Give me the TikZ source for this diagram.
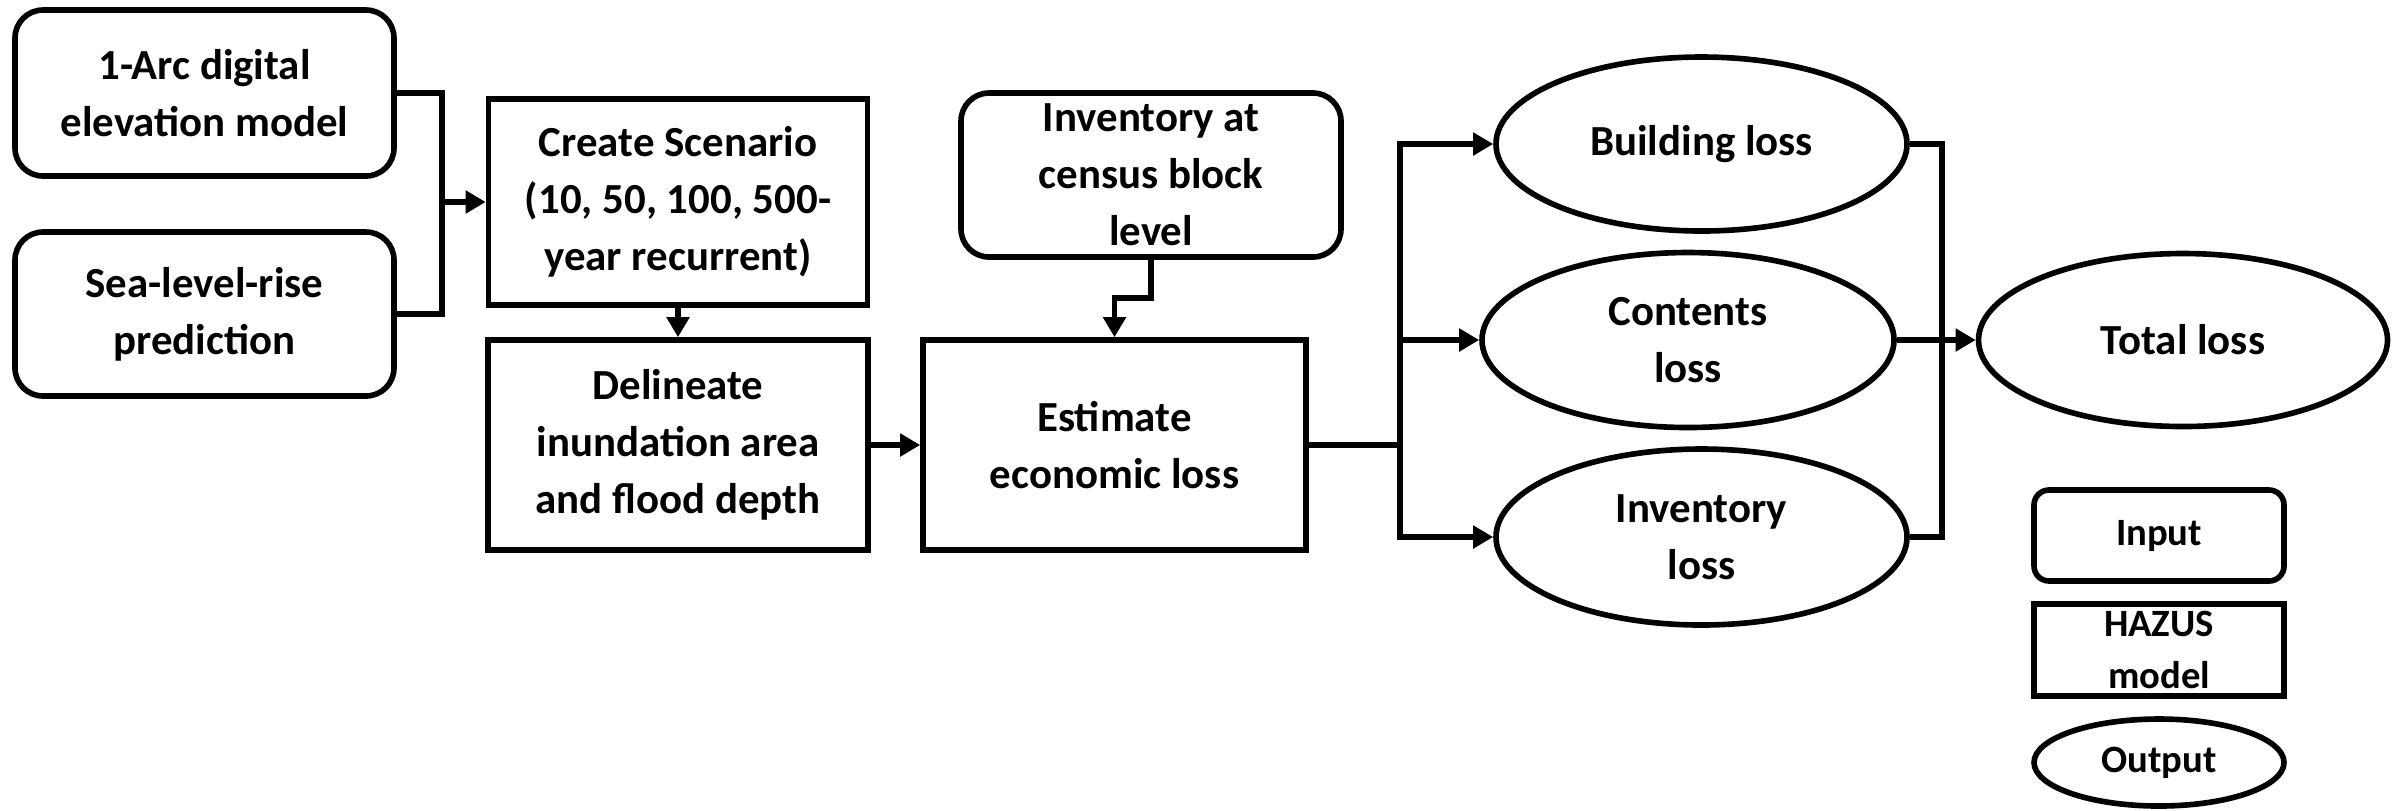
\documentclass[tikz,border=0pt]{standalone}
\usepackage{fontspec}
\setmainfont{Carlito}
\usetikzlibrary{shapes.geometric,arrows.meta}

\begin{document}
\begin{tikzpicture}[
    box/.style = {draw, line width=1.6pt, align=center, inner sep=0pt,
                  font=\fontsize{12.2}{16.2}\selectfont\bfseries},
    inbox/.style = {box, rounded corners=0.28cm},
    hbox/.style = {box},
    outbox/.style = {box, ellipse},
    keyfont/.style = {font=\fontsize{11}{14.8}\selectfont\bfseries},
    conn/.style = {line width=1.6pt},
    arr/.style = {conn, -{Triangle[length=2mm,width=2.2mm]}}
]
    \useasboundingbox (0,0) rectangle (24.05,-8.10);

    % inputs
    \node[inbox, minimum width=3.79cm, minimum height=1.66cm] (dem) at (2.045,-0.93) {1-Arc digital\\elevation model};
    \node[inbox, minimum width=3.79cm, minimum height=1.64cm] (slr) at (2.045,-3.14) {Sea-level-rise\\prediction};
    \node[inbox, minimum width=3.80cm, minimum height=1.64cm] (stock) at (11.51,-1.75) {Inventory at\\census block\\level};

    % HAZUS steps
    \node[hbox, minimum width=3.79cm, minimum height=2.06cm] (scen) at (6.78,-2.02) {Create Scenario\\(10, 50, 100, 500-\\year recurrent)};
    \node[hbox, minimum width=3.80cm, minimum height=2.10cm] (delin) at (6.78,-4.45) {Delineate\\inundation area\\and flood depth};
    \node[hbox, minimum width=3.83cm, minimum height=2.10cm] (econ) at (11.145,-4.45) {Estimate\\economic loss};

    % outputs
    \node[outbox, minimum width=4.11cm, minimum height=1.74cm] (bldg) at (17.015,-1.44) {Building loss};
    \node[outbox, minimum width=4.12cm, minimum height=1.75cm] (cont) at (16.88,-3.40) {Contents\\loss};
    \node[outbox, minimum width=4.11cm, minimum height=1.76cm] (invl) at (17.015,-5.37) {Inventory\\loss};
    \node[outbox, minimum width=4.09cm, minimum height=1.73cm] (total) at (21.83,-3.40) {Total loss};

    % legend
    \node[inbox, keyfont, rounded corners=0.15cm, minimum width=2.50cm, minimum height=0.91cm] (keyin) at (21.59,-5.355) {Input};
    \node[hbox, keyfont, minimum width=2.50cm, minimum height=0.92cm] (keyhaz) at (21.59,-6.50) {HAZUS\\model};
    \node[outbox, keyfont, minimum width=2.50cm, minimum height=0.87cm] (keyout) at (21.59,-7.625) {Output};

    % connectors
    \coordinate (jl) at (4.42,-2.02);
    \draw[conn] (dem.east) -| (jl) |- (slr.east);
    \draw[arr] (jl) -- (scen.west);
    \draw[arr] (scen.south) -- (delin.north);
    \draw[arr] (delin.east) -- (econ.west);

    \coordinate (kink) at (11.145,-2.98);
    \draw[arr] (stock.south) |- (kink) -| (econ.north);

    \coordinate (jr) at (14.00,-4.45);
    \draw[conn] (econ.east) -- (jr);
    \draw[arr] (jr) |- (bldg.west);
    \draw[arr] (jr) |- (cont.west);
    \draw[arr] (jr) |- (invl.west);

    \coordinate (jm) at (19.42,-3.40);
    \draw[conn] (bldg.east) -| (jm);
    \draw[conn] (invl.east) -| (jm);
    \draw[arr] (cont.east) -- (total.west);
    % \draw[help lines, step=0.5] (0,-8.1) grid (24.05,0);
\end{tikzpicture}
\end{document}
